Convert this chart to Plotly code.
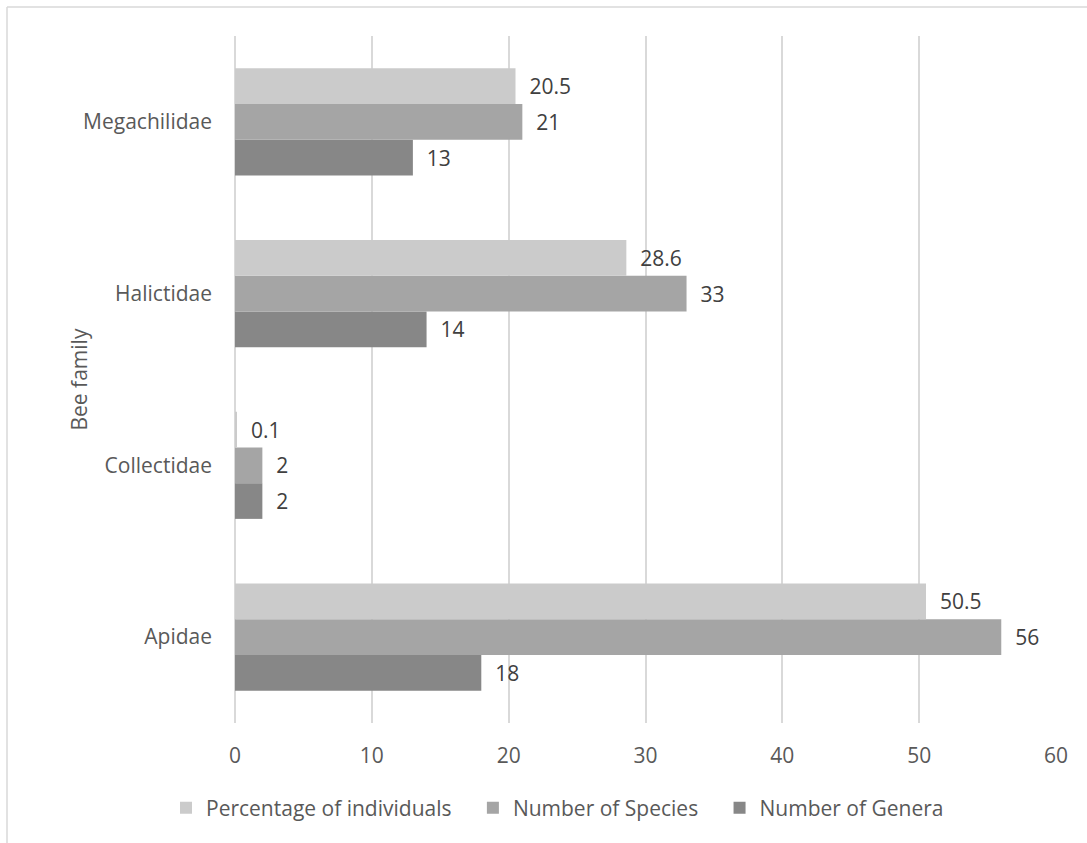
import plotly.graph_objects as go

families = ["Apidae", "Collectidae", "Halictidae", "Megachilidae"]
pct_individuals = [50.5, 0.1, 28.6, 20.5]
num_species = [56, 2, 33, 21]
num_genera = [18, 2, 14, 13]
x_ticks = [0, 10, 20, 30, 40, 50, 60]

W, H = 1087, 843
L, R, T, B = 235, 31, 36, 120
pw, ph = W - L - R, H - T - B

def px_x(p):
    return (p - L) / pw

def px_y(p):
    return (H - B - p) / ph

FONT = "Open Sans"
FS = 21
PAD = "\u00a0" * 3
fig = go.Figure()
series = [
    ("Number of Genera", num_genera, "#878787"),
    ("Number of Species" + PAD, num_species, "#a5a5a5"),
    ("Percentage of individuals" + PAD, pct_individuals, "#cbcbcb"),
]
for name, vals, col in series:
    fig.add_trace(go.Bar(
        y=families, x=vals, name=name, orientation="h",
        marker=dict(color=col, line=dict(width=0)),
        text=["  " + f"{v:g}" for v in vals], textposition="outside",
        textfont=dict(family=FONT, size=FS, color="#404040"),
        cliponaxis=False,
    ))

fig.update_layout(
    width=W, height=H,
    margin=dict(l=L, r=R, t=T, b=B, pad=0),
    paper_bgcolor="white", plot_bgcolor="white",
    barmode="group", bargap=0.377, bargroupgap=0,
    font=dict(family=FONT, size=FS, color="#595959"),
    xaxis=dict(range=[0, 60], tickvals=x_ticks, showgrid=True,
               gridcolor="#d9d9d9", gridwidth=1.5, zeroline=True,
               zerolinecolor="#d9d9d9", zerolinewidth=1.5,
               showline=False, ticks="", ticklabelstandoff=18,
               tickfont=dict(family=FONT, size=FS, color="#595959"), fixedrange=True),
    yaxis=dict(showgrid=False, showline=False, ticks="", ticklabelstandoff=22,
               tickfont=dict(family=FONT, size=FS, color="#595959"), fixedrange=True),
    showlegend=True,
    legend=dict(orientation="h", traceorder="reversed", x=px_x(166), xanchor="left",
                y=px_y(808), yanchor="middle", font=dict(family=FONT, size=FS, color="#595959"),
                itemwidth=30, bgcolor="rgba(0,0,0,0)"),
    annotations=[dict(text="Bee family", xref="paper", yref="paper", x=px_x(62),
                      y=0.5, textangle=-90, showarrow=False,
                      font=dict(family=FONT, size=FS, color="#595959"))],
    shapes=[
        dict(type="line", xref="paper", yref="paper", x0=px_x(7), x1=px_x(W + 5),
             y0=px_y(7), y1=px_y(7), line=dict(color="#d9d9d9", width=1.5)),
        dict(type="line", xref="paper", yref="paper", x0=px_x(7), x1=px_x(7),
             y0=px_y(7), y1=px_y(H + 5), line=dict(color="#d9d9d9", width=1.5)),
    ],
)

fig.write_html("out.html", config={"displayModeBar": False})
